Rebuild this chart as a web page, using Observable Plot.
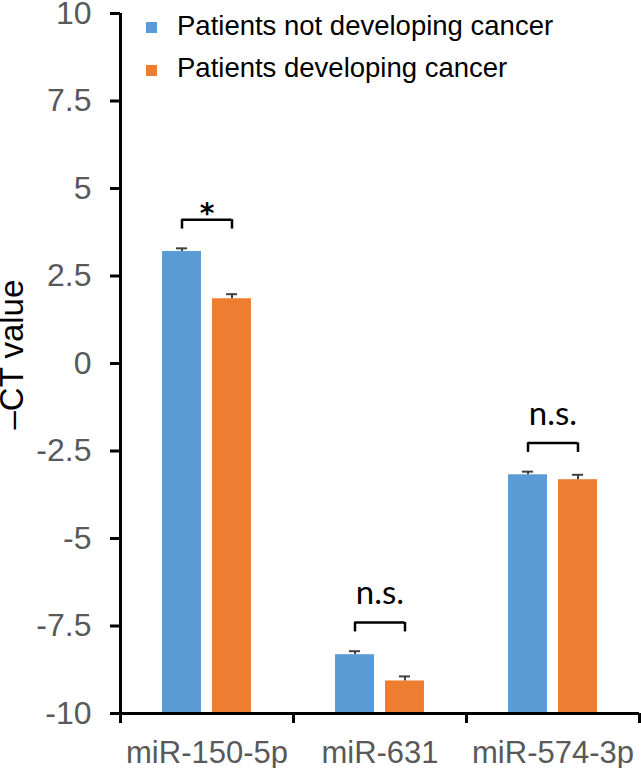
<!DOCTYPE html>
<html><head><meta charset="utf-8">
<script src="https://cdn.jsdelivr.net/npm/d3@7"></script>
<script src="https://cdn.jsdelivr.net/npm/@observablehq/plot@0.6"></script>
<style>
body{margin:0;background:#fff;}
#wrap{position:relative;width:641px;height:768px;}
#wrap svg{overflow:visible;}
.leg{position:absolute;font-family:"Liberation Sans",Arial,sans-serif;font-size:27.5px;line-height:1;color:#000;white-space:nowrap;}
.sw{position:absolute;width:11px;height:11px;}
</style></head><body><div id="wrap"></div>
<script>
// ---- data ----
const categories = ["miR-150-5p", "miR-631", "miR-574-3p"];
const groups = ["Patients not developing cancer", "Patients developing cancer"];
const colors = ["#5B9BD5", "#ED7D31"];
const notDeveloping = [3.20, -8.32, -3.18];
const notDevelopingErr = [0.09, 0.10, 0.09];
const developing = [1.85, -9.07, -3.32];
const developingErr = [0.13, 0.13, 0.14];
const significance = ["*", "n.s.", "n.s."];
const yTicks = [10, 7.5, 5, 2.5, 0, -2.5, -5, -7.5, -10];
const yLabel = "–CT value";

// ---- layout constants (in category units) ----
const barStart = [0.243, 0.532];
const barW = 0.225;
const capHalf = 0.032;
const bracketGap = 0.55, legH = 0.27;

const values = [notDeveloping, developing];
const errs = [notDevelopingErr, developingErr];
const rows = [];
categories.forEach((c, i) => groups.forEach((g, k) => {
  const x1 = i + barStart[k];
  rows.push({category: c, group: g, value: values[k][i], err: errs[k][i], x1, x2: x1 + barW, xc: x1 + barW / 2});
}));
const brackets = categories.map((c, i) => {
  const r = rows.filter(d => d.category === c);
  const top = d3.max(r, d => d.value + d.err) + bracketGap + legH;
  return {category: c, label: significance[i], left: r[0].xc, right: r[1].xc, mid: (r[0].xc + r[1].xc) / 2, top};
});

const plot = Plot.plot({
  width: 641, height: 768,
  marginLeft: 120, marginRight: 2, marginTop: 13, marginBottom: 55,
  x: {type: "linear", domain: [0, categories.length], axis: null},
  y: {domain: [-10, 10], axis: null},
  color: {domain: groups, range: colors},
  style: {background: "white", fontFamily: "Liberation Sans, Arial, sans-serif", overflow: "visible"},
  marks: [
    Plot.rectY(rows, {x1: "x1", x2: "x2", y1: -10, y2: "value", fill: "group"}),
    Plot.ruleX(rows, {x: "xc", y1: "value", y2: d => d.value + d.err, stroke: "#404040", strokeWidth: 2}),
    Plot.ruleY(rows, {y: d => d.value + d.err, x1: d => d.xc - capHalf, x2: d => d.xc + capHalf, stroke: "#404040", strokeWidth: 2}),
    Plot.ruleY(brackets, {y: "top", x1: "left", x2: "right", stroke: "black", strokeWidth: 2.5}),
    Plot.ruleX(brackets, {x: "left", y1: d => d.top - legH, y2: "top", stroke: "black", strokeWidth: 2.5}),
    Plot.ruleX(brackets, {x: "right", y1: d => d.top - legH, y2: "top", stroke: "black", strokeWidth: 2.5}),
    Plot.text(brackets, {filter: d => d.label === "*", x: "mid", y: "top", text: "label", dy: -6, fontFamily: "DejaVu Sans", fontSize: 28, fontWeight: "bold", fill: "black"}),
    Plot.text(brackets, {filter: d => d.label !== "*", x: "mid", y: "top", text: "label", dy: -29, fontFamily: "Lato", fontSize: 33, fill: "black"}),
    Plot.axisY({ticks: yTicks, tickSize: 10, tickPadding: 19, tickFormat: d => String(d), fontSize: 32, fill: "#595959", stroke: "black", strokeWidth: 3}),
    Plot.ruleX([0], {stroke: "black", strokeWidth: 3}),
    Plot.ruleY([-10], {stroke: "black", strokeWidth: 3}),
    Plot.axisX({ticks: d3.range(categories.length + 1), tickSize: 10, tickFormat: () => "", stroke: "black", strokeWidth: 3}),
    Plot.axisX({ticks: categories.map((c, i) => i + 0.5), tickSize: 0, tickPadding: 27, tickFormat: d => categories[Math.floor(d)], fontSize: 31, fill: "#595959"}),
    Plot.text([yLabel], {frameAnchor: "left", rotate: -90, dx: -108, dy: 66, fontSize: 33, fill: "black"})
  ]
});
const wrap = document.getElementById("wrap");
wrap.appendChild(plot);

// legend (HTML overlay, top inside plot area)
groups.forEach((g, k) => {
  const sw = document.createElement("div");
  sw.className = "sw";
  sw.style.background = colors[k];
  sw.style.left = "146px";
  sw.style.top = (22 + k * 43) + "px";
  wrap.appendChild(sw);
  const t = document.createElement("div");
  t.className = "leg";
  t.textContent = g;
  t.style.left = "177px";
  t.style.top = (12 + k * 42) + "px";
  wrap.appendChild(t);
});
</script></body></html>
